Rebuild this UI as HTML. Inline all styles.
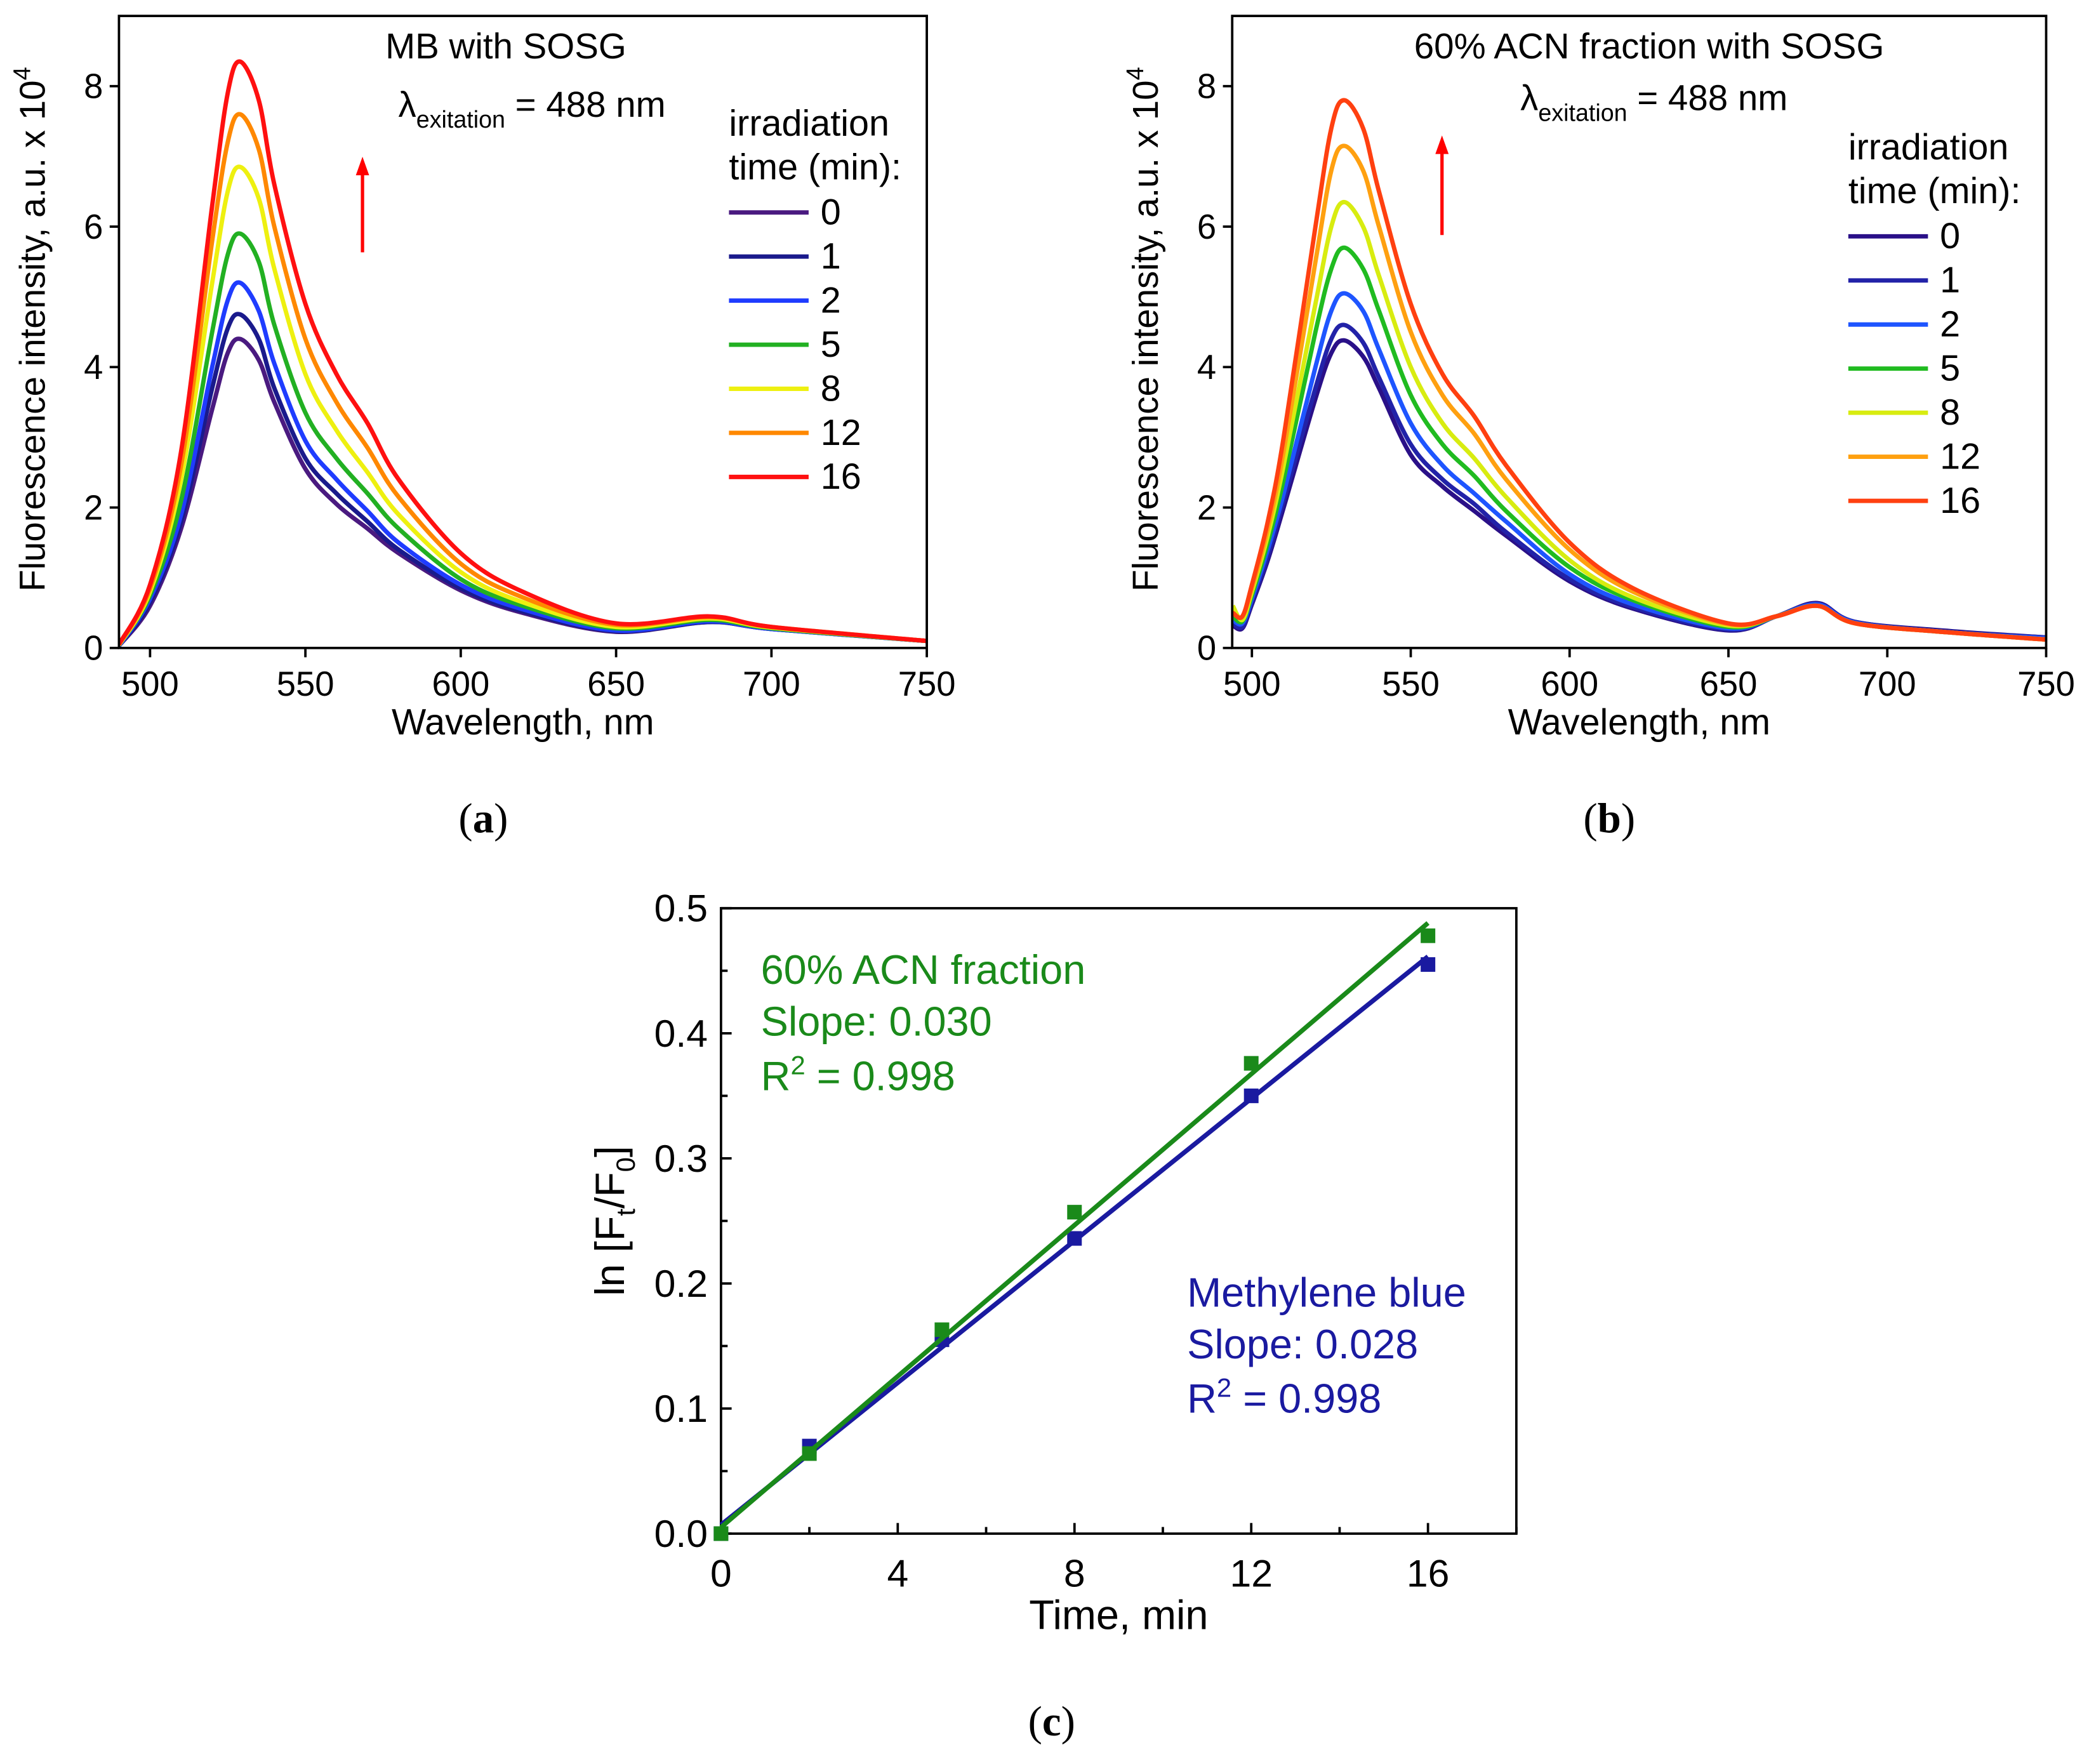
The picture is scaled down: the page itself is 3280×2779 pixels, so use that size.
<!DOCTYPE html>
<html><head><meta charset="utf-8"><style>
html,body{margin:0;padding:0;background:#fff;}
svg{display:block;font-family:"Liberation Sans",Arial,sans-serif;}
</style></head><body>
<svg id="fig" width="3280" height="2779" viewBox="0 0 1568 1328.5" xmlns="http://www.w3.org/2000/svg">
<g id="pa"></g>
<g id="pb"></g>
<g id="pc"></g>
<text x="364" y="627" font-family="Liberation Serif,serif" font-size="32" text-anchor="middle">(<tspan font-weight="bold">a</tspan>)</text>
<text x="1212" y="627" font-family="Liberation Serif,serif" font-size="32" text-anchor="middle">(<tspan font-weight="bold">b</tspan>)</text>
<text x="792" y="1307" font-family="Liberation Serif,serif" font-size="32" text-anchor="middle">(<tspan font-weight="bold">c</tspan>)</text>
</svg>
<script>
// ---------- data ----------
const timesLegend = ["0","1","2","5","8","12","16"];
const colorsA = ["#4a1a80","#1a1a8c","#1f3cff","#22b022","#eef010","#ff8800","#ff1010"];
const colorsB = ["#2a1088","#2222a8","#1e55ff","#20bb20","#d8ec10","#ffa010","#ff4010"];
const wlA = [490,500,510,520,525,529,535,540,550,560,570,580,600,620,650,680,700,750];
const specA0 = [0.03,0.6,1.7,3.4,4.2,4.4,4.1,3.5,2.55,2.05,1.7,1.35,0.82,0.5,0.23,0.37,0.27,0.1];
const specA1 = [0.03,0.65,1.8,3.7,4.55,4.75,4.4,3.7,2.7,2.2,1.8,1.4,0.85,0.52,0.24,0.37,0.27,0.1];
const specA2 = [0.03,0.7,1.9,4.0,4.95,5.2,4.8,4.05,2.95,2.4,1.95,1.5,0.9,0.55,0.25,0.38,0.27,0.1];
const specA5 = [0.04,0.75,2.1,4.5,5.6,5.9,5.5,4.6,3.35,2.7,2.2,1.7,0.98,0.6,0.28,0.4,0.28,0.1];
const specA8 = [0.04,0.8,2.4,5.2,6.5,6.85,6.4,5.4,3.9,3.1,2.5,1.9,1.08,0.65,0.3,0.42,0.29,0.1];
const specA12 = [0.05,0.85,2.6,5.8,7.2,7.6,7.1,6.0,4.4,3.5,2.85,2.15,1.2,0.72,0.33,0.44,0.3,0.1];
const specA16 = [0.05,0.9,2.8,6.3,7.9,8.35,7.8,6.6,4.9,3.9,3.2,2.4,1.35,0.8,0.35,0.45,0.3,0.1];
const wlB = [494,497,500,505,510,520,525,529,535,540,550,560,570,580,600,620,650,665,678,690,720,750];
const specB0 = [0.32,0.28,0.62,1.25,2.0,3.55,4.2,4.38,4.15,3.7,2.75,2.3,1.95,1.6,0.95,0.56,0.25,0.45,0.64,0.37,0.24,0.15];
const specB1 = [0.35,0.3,0.65,1.3,2.1,3.7,4.4,4.6,4.35,3.85,2.9,2.4,2.05,1.65,0.98,0.58,0.26,0.45,0.63,0.37,0.23,0.15];
const specB2 = [0.4,0.35,0.7,1.4,2.2,4.0,4.8,5.05,4.8,4.25,3.2,2.6,2.2,1.8,1.05,0.62,0.28,0.45,0.62,0.36,0.22,0.14];
const specB5 = [0.45,0.38,0.75,1.5,2.4,4.5,5.4,5.7,5.4,4.8,3.6,2.9,2.45,1.95,1.15,0.68,0.3,0.45,0.6,0.35,0.22,0.12];
const specB8 = [0.6,0.4,0.8,1.6,2.6,4.9,6.0,6.35,6.0,5.3,4.0,3.2,2.7,2.15,1.25,0.72,0.32,0.45,0.6,0.35,0.22,0.12];
const specB12 = [0.5,0.45,0.85,1.7,2.8,5.5,6.8,7.15,6.8,6.0,4.5,3.6,3.05,2.4,1.4,0.8,0.34,0.45,0.6,0.35,0.22,0.12];
const specB16 = [0.5,0.45,0.9,1.8,3.0,6.0,7.4,7.8,7.4,6.5,4.9,3.9,3.3,2.6,1.5,0.85,0.35,0.45,0.6,0.35,0.22,0.12];
const xTicksSpec = [500,550,600,650,700,750];
const yTicksSpec = [0,2,4,6,8];
const timeC = [0,2,5,8,12,16];
const lnACN = [0,0.064,0.163,0.257,0.376,0.478];
const lnMB = [0,0.070,0.155,0.236,0.350,0.455];
const fitACN = [0.005,0.0302];
const fitMB = [0.007,0.0284];
const xTicksC = [0,4,8,12,16];
const yTicksC = [0,0.1,0.2,0.3,0.4,0.5];

const NS="http://www.w3.org/2000/svg";
function mk(parent,tag,attrs,text){const e=document.createElementNS(NS,tag);for(const k in attrs)e.setAttribute(k,attrs[k]);if(text!==undefined)e.textContent=text;parent.appendChild(e);return e;}
function smooth(pts){let d="M"+pts[0][0]+","+pts[0][1];for(let i=0;i<pts.length-1;i++){const p0=pts[Math.max(0,i-1)],p1=pts[i],p2=pts[i+1],p3=pts[Math.min(pts.length-1,i+2)];const c1x=p1[0]+(p2[0]-p0[0])/6,c1y=p1[1]+(p2[1]-p0[1])/6,c2x=p2[0]-(p3[0]-p1[0])/6,c2y=p2[1]-(p3[1]-p1[1])/6;d+=" C"+c1x+","+c1y+" "+c2x+","+c2y+" "+p2[0]+","+p2[1];}return d;}

function spectrumPanel(g,cfg){
  const sx=w=>cfg.x0+(w-cfg.xmin)/(cfg.xmax-cfg.xmin)*(cfg.x1-cfg.x0);
  const sy=v=>cfg.y1-(v-0)/9*(cfg.y1-cfg.y0);
  const clip="clip"+cfg.id;
  const cp=mk(g,"clipPath",{id:clip});mk(cp,"rect",{x:cfg.x0,y:cfg.y0,width:cfg.x1-cfg.x0,height:cfg.y1-cfg.y0});
  const sg=mk(g,"g",{"clip-path":"url(#"+clip+")"});
  cfg.series.forEach((s,i)=>{
    const p=mk(sg,"path",{d:smooth(cfg.wl.map((w,j)=>[sx(w),sy(s[j])])),fill:"none",stroke:cfg.colors[i],"stroke-width":3.3});
    
    
  });
  const box=mk(g,"rect",{x:cfg.x0,y:cfg.y0,width:cfg.x1-cfg.x0,height:cfg.y1-cfg.y0,fill:"none",stroke:"#000","stroke-width":1.8});
  
  
  xTicksSpec.forEach(t=>{const x=sx(t);mk(g,"line",{x1:x,x2:x,y1:cfg.y1,y2:cfg.y1+7,stroke:"#000","stroke-width":1.8});
    const tl=mk(g,"text",{x:x,y:cfg.y1+36,"font-size":26,"text-anchor":"middle"},String(t));
    
    });
  yTicksSpec.forEach(t=>{const y=sy(t);mk(g,"line",{x1:cfg.x0-7,x2:cfg.x0,y1:y,y2:y,stroke:"#000","stroke-width":1.8});
    const tl=mk(g,"text",{x:cfg.x0-12,y:y+9,"font-size":26,"text-anchor":"end"},String(t));
    
    });
  const xt=mk(g,"text",{x:(cfg.x0+cfg.x1)/2,y:cfg.y1+65,"font-size":27.5,"text-anchor":"middle"},"Wavelength, nm");
  
  
  const yt=mk(g,"text",{transform:"translate("+(cfg.x0-56)+","+((cfg.y0+cfg.y1)/2-2)+") rotate(-90)","font-size":27,"text-anchor":"middle"});
  yt.innerHTML='Fluorescence intensity, a.u. x 10<tspan dy="-11" font-size="18">4</tspan>';
  
  
  const tt=mk(g,"text",{x:cfg.tx,y:44,"font-size":27,"text-anchor":"middle"},cfg.title);
  
  
  const lt=mk(g,"text",{x:cfg.lx,y:cfg.ly,"font-size":27});
  lt.innerHTML='λ<tspan dy="8" font-size="18">exitation</tspan><tspan dy="-8"> = 488 nm</tspan>';
  
  
  const ar=mk(g,"g",{});
  
  
  mk(ar,"line",{x1:cfg.ax,x2:cfg.ax,y1:cfg.ay1,y2:cfg.ay0+12,stroke:"#ff0000","stroke-width":2.5});
  mk(ar,"polygon",{points:(cfg.ax-5)+","+(cfg.ay0+14)+" "+(cfg.ax+5)+","+(cfg.ay0+14)+" "+cfg.ax+","+cfg.ay0,fill:"#ff0000"});
  const lg=mk(g,"g",{});
  
  
  mk(lg,"text",{x:cfg.legx,y:cfg.legy,"font-size":27.5},"irradiation");
  mk(lg,"text",{x:cfg.legx,y:cfg.legy+33,"font-size":27.5},"time (min):");
  timesLegend.forEach((t,i)=>{const y=cfg.legy+67+i*33.2;
    const e=mk(lg,"g",{});
    
    
    mk(e,"line",{x1:cfg.legx,x2:cfg.legx+60,y1:y-9,y2:y-9,stroke:cfg.colors[i],"stroke-width":3.3});
    mk(e,"text",{x:cfg.legx+69,y:y,"font-size":27.5},t);});
}

spectrumPanel(document.getElementById("pa"),{id:"a",x0:89.6,x1:698,y0:12,y1:488,xmin:490,xmax:750,wl:wlA,
  series:[specA0,specA1,specA2,specA5,specA8,specA12,specA16],colors:colorsA,title:"MB with SOSG",tx:381,lx:300,ly:88,
  ax:273,ay0:118,ay1:190,legx:549,legy:102});
spectrumPanel(document.getElementById("pb"),{id:"b",x0:928,x1:1541,y0:12,y1:488,xmin:493.8,xmax:750,wl:wlB,
  series:[specB0,specB1,specB2,specB5,specB8,specB12,specB16],colors:colorsB,title:"60% ACN fraction with SOSG",tx:1242,lx:1145,ly:83,
  ax:1086,ay0:102,ay1:177,legx:1392,legy:120});

// panel c
(function(){
  const g=document.getElementById("pc");
  const x0=543,x1=1142,y0=684,y1=1155;
  const sx=t=>x0+t/18*(x1-x0);
  const sy=v=>y1-v/0.5*(y1-y0);
  const box=mk(g,"rect",{x:x0,y:y0,width:x1-x0,height:y1-y0,fill:"none",stroke:"#000","stroke-width":1.8});
  
  
  for(let t=0;t<=18;t+=2){const x=sx(t);const maj=t%4===0;mk(g,"line",{x1:x,x2:x,y1:y1,y2:y1-(maj?8:5),stroke:"#000","stroke-width":1.8});}
  for(let k=0;k<=10;k++){const y=sy(k*0.05);const maj=k%2===0;mk(g,"line",{x1:x0,x2:x0+(maj?8:5),y1:y,y2:y,stroke:"#000","stroke-width":1.8});}
  xTicksC.forEach(t=>{const tl=mk(g,"text",{x:sx(t),y:y1+40,"font-size":29,"text-anchor":"middle"},String(t));
    
    });
  yTicksC.forEach(t=>{const tl=mk(g,"text",{x:x0-10,y:sy(t)+10,"font-size":29,"text-anchor":"end"},t.toFixed(1));
    
    });
  const xt=mk(g,"text",{x:(x0+x1)/2,y:y1+72,"font-size":31,"text-anchor":"middle"},"Time, min");
  
  
  const yt=mk(g,"text",{transform:"translate(470,"+((y0+y1)/2)+") rotate(-90)","font-size":31,"text-anchor":"middle"});
  yt.innerHTML='ln [F<tspan dy="8" font-size="20">t</tspan><tspan dy="-8">/F</tspan><tspan dy="8" font-size="20">0</tspan><tspan dy="-8">]</tspan>';
  
  
  [[fitMB,lnMB,"#1a1aa0","methylene-blue"],[fitACN,lnACN,"#1a8a1a","acn-fraction"]].forEach(([f,vals,c,nm])=>{
    const ln=mk(g,"line",{x1:sx(0),y1:sy(f[0]),x2:sx(16),y2:sy(f[0]+f[1]*16),stroke:c,"stroke-width":3.5});
    
    
    timeC.forEach((t,i)=>{const r=mk(g,"rect",{x:sx(t)-5.5,y:sy(vals[i])-5.5,width:11,height:11,fill:c});
      
      });
  });
  const ga=mk(g,"text",{x:573,y:741,"font-size":31,fill:"#1a8a1a"});
  ga.innerHTML='<tspan x="573">60% ACN fraction</tspan><tspan x="573" dy="39">Slope: 0.030</tspan><tspan x="573" dy="41">R</tspan><tspan dy="-12" font-size="20">2</tspan><tspan dy="12"> = 0.998</tspan>';
  
  
  const gb=mk(g,"text",{x:894,y:984,"font-size":31,fill:"#1a1aa0"});
  gb.innerHTML='<tspan x="894">Methylene blue</tspan><tspan x="894" dy="39">Slope: 0.028</tspan><tspan x="894" dy="41">R</tspan><tspan dy="-12" font-size="20">2</tspan><tspan dy="12"> = 0.998</tspan>';
  
  
})();
</script>
</body></html>
